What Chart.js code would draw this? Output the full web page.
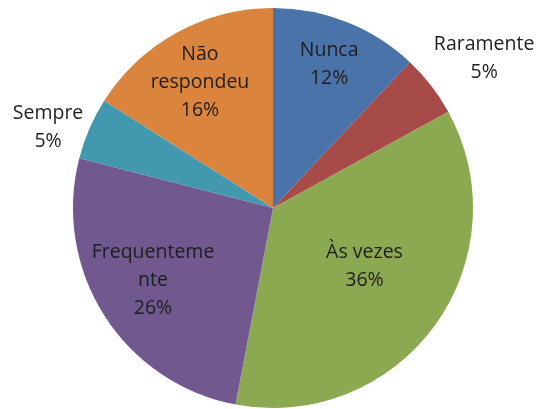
<!DOCTYPE html>
<html>
<head>
<meta charset="utf-8">
<script src="https://cdn.jsdelivr.net/npm/chart.js@4"></script>
<style>
  html, body { margin: 0; padding: 0; background: #fff; }
  #wrap { width: 539px; height: 409px; }
</style>
</head>
<body>
<div id="wrap"><canvas id="chart" width="539" height="409"></canvas></div>
<script>
const categories = ['Nunca', 'Raramente', 'Às vezes', 'Frequentemente', 'Sempre', 'Não respondeu'];
const labelLines = [['Nunca'], ['Raramente'], ['Às vezes'], ['Frequenteme', 'nte'], ['Sempre'], ['Não', 'respondeu']];
const percentValues = [12, 5, 36, 26, 5, 16];
const sliceColors = ['#4a74a9', '#a64b48', '#8ba951', '#71588f', '#4198af', '#db843d'];
// label placement: fraction of the radius, and a small turn (degrees) off the slice middle
const labelRadius = [0.7725, 1.295, 0.543, 0.70, 1.194, 0.728];
const labelTurn = [-0.3, 2.4, -3.4, 1.4, -3.8, -1.3];

const labelPlugin = {
  id: 'sliceLabels',
  afterDatasetsDraw(chart) {
    const ctx = chart.ctx;
    const meta = chart.getDatasetMeta(0);
    ctx.save();
    ctx.font = '19.5px "Open Sans", sans-serif';
    ctx.fillStyle = '#1e1e1e';
    ctx.textAlign = 'center';
    ctx.textBaseline = 'middle';
    meta.data.forEach((arc, i) => {
      const p = arc.getProps(['x', 'y', 'startAngle', 'endAngle', 'outerRadius'], true);
      const mid = (p.startAngle + p.endAngle) / 2 + labelTurn[i] * Math.PI / 180;
      const r = p.outerRadius * labelRadius[i];
      const cx = p.x + Math.cos(mid) * r;
      const cy = p.y + Math.sin(mid) * r;
      const lines = labelLines[i].concat([percentValues[i] + '%']);
      const lh = 28;
      const top = cy - (lines.length - 1) * lh / 2;
      lines.forEach((t, j) => ctx.fillText(t, cx, top + j * lh));
    });
    ctx.restore();
  }
};

new Chart(document.getElementById('chart'), {
  type: 'pie',
  data: {
    labels: categories,
    datasets: [{
      data: percentValues,
      backgroundColor: sliceColors,
      borderWidth: 0
    }]
  },
  options: {
    responsive: false,
    animation: false,
    layout: { padding: { top: 8, bottom: 1, left: 7, right: 0 } },
    plugins: {
      legend: { display: false },
      tooltip: { enabled: false }
    }
  },
  plugins: [labelPlugin]
});
</script>
</body>
</html>
